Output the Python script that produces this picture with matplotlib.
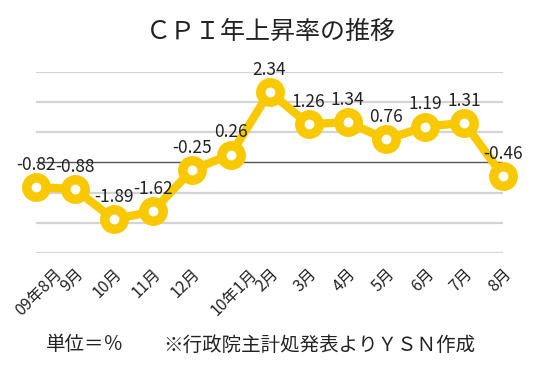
import matplotlib
matplotlib.use("Agg")
import matplotlib.pyplot as plt
import matplotlib.transforms as mtransforms
import numpy as np

plt.rcParams["font.family"] = ["Noto Sans CJK JP", "DejaVu Sans"]

MONTHS = ["09年8月", "9月", "10月", "11月", "12月", "10年1月", "2月",
          "3月", "4月", "5月", "6月", "7月", "8月"]
CPI = [-0.82, -0.88, -1.89, -1.62, -0.25, 0.26, 2.34,
       1.26, 1.34, 0.76, 1.19, 1.31, -0.46]
YTICKS = [-3, -2, -1, 0, 1, 2, 3]

GOLD = "#f9c900"


def main():
    fig = plt.figure(figsize=(5.36, 3.65), dpi=100)
    ax = fig.add_axes([0.067, 0.307, 0.872, 0.496])
    x = np.arange(len(MONTHS))

    for y in YTICKS:
        if y == 0:
            ax.axhline(y, color="#555555", linewidth=1.0, zorder=1)
        else:
            ax.axhline(y, color="#d4d4d4", linewidth=1.6, zorder=1)

    ax.plot(x, CPI, color=GOLD, linewidth=6, marker="o", markersize=14,
            markerfacecolor="white", markeredgecolor=GOLD, markeredgewidth=6.8,
            clip_on=False, zorder=3)

    for xi, v in zip(x, CPI):
        ax.annotate(f"{v:.2f}", (xi, v), xytext=(0, 16), textcoords="offset points",
                    ha="center", va="center", fontsize=12.5, color="#222222", zorder=4)

    ax.set_xlim(0, len(MONTHS) - 1)
    ax.set_ylim(YTICKS[0], YTICKS[-1])
    ax.set_yticks([])
    ax.set_xticks(x)
    ax.set_xticklabels(MONTHS, rotation=45, ha="right", va="top",
                       rotation_mode="anchor", fontsize=11.5, color="#222222")
    ax.tick_params(axis="x", length=0, pad=9)
    for i, lab in enumerate(ax.get_xticklabels()):
        if len(MONTHS[i]) > 3:
            lab.set_transform(lab.get_transform() + mtransforms.ScaledTranslation(
                18 / 100, 0, fig.dpi_scale_trans))
    for s in ax.spines.values():
        s.set_visible(False)

    fig.text(0.506, 0.912, "ＣＰＩ年上昇率の推移", ha="center", va="center",
             fontsize=18, color="#222222")
    fig.text(0.159, 0.055, "単位＝％", ha="center", va="center", fontsize=14, color="#222222")
    fig.text(0.305, 0.055, "※行政院主計処発表よりＹＳＮ作成", ha="left", va="center",
             fontsize=14, color="#222222")

    fig.savefig("out.png", dpi=100)


if __name__ == "__main__":
    main()
